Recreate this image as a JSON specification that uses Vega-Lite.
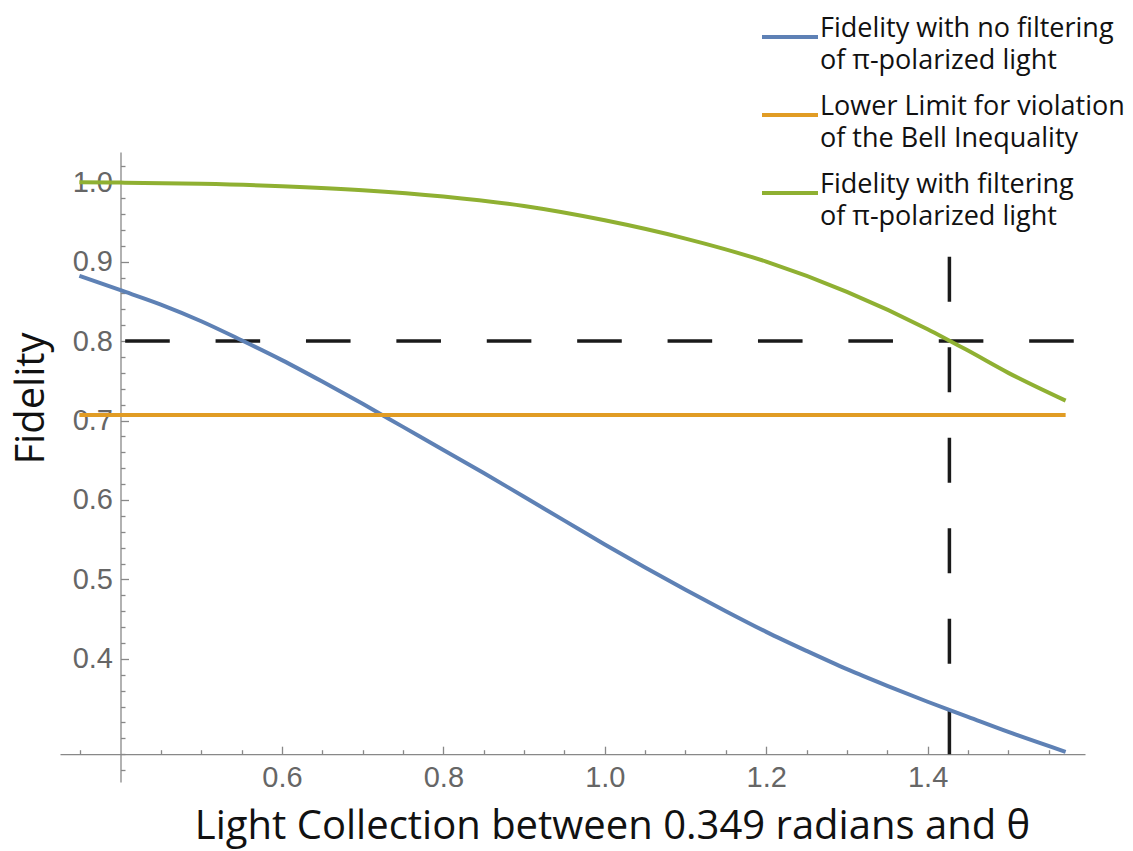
{
  "$schema": "https://vega.github.io/schema/vega-lite/v6.json",
  "width": 1025,
  "height": 630,
  "autosize": "none",
  "padding": {"left": 60, "top": 152, "right": 48, "bottom": 69},
  "background": "white",
  "config": {"view": {"stroke": null}, "font": "Open Sans"},
  "datasets": {
    "curves": [
      {"s": "Fidelity with no filtering| of π-polarized light", "x": 0.349, "y": 0.882},
      {"s": "Fidelity with no filtering| of π-polarized light", "x": 0.4, "y": 0.864},
      {"s": "Fidelity with no filtering| of π-polarized light", "x": 0.45, "y": 0.846},
      {"s": "Fidelity with no filtering| of π-polarized light", "x": 0.5, "y": 0.825},
      {"s": "Fidelity with no filtering| of π-polarized light", "x": 0.55, "y": 0.801},
      {"s": "Fidelity with no filtering| of π-polarized light", "x": 0.6, "y": 0.776},
      {"s": "Fidelity with no filtering| of π-polarized light", "x": 0.65, "y": 0.749},
      {"s": "Fidelity with no filtering| of π-polarized light", "x": 0.7, "y": 0.721},
      {"s": "Fidelity with no filtering| of π-polarized light", "x": 0.75, "y": 0.692},
      {"s": "Fidelity with no filtering| of π-polarized light", "x": 0.8, "y": 0.663},
      {"s": "Fidelity with no filtering| of π-polarized light", "x": 0.85, "y": 0.634},
      {"s": "Fidelity with no filtering| of π-polarized light", "x": 0.9, "y": 0.604},
      {"s": "Fidelity with no filtering| of π-polarized light", "x": 0.95, "y": 0.574},
      {"s": "Fidelity with no filtering| of π-polarized light", "x": 1.0, "y": 0.544},
      {"s": "Fidelity with no filtering| of π-polarized light", "x": 1.05, "y": 0.515},
      {"s": "Fidelity with no filtering| of π-polarized light", "x": 1.1, "y": 0.487},
      {"s": "Fidelity with no filtering| of π-polarized light", "x": 1.15, "y": 0.46},
      {"s": "Fidelity with no filtering| of π-polarized light", "x": 1.2, "y": 0.434},
      {"s": "Fidelity with no filtering| of π-polarized light", "x": 1.25, "y": 0.41},
      {"s": "Fidelity with no filtering| of π-polarized light", "x": 1.3, "y": 0.387},
      {"s": "Fidelity with no filtering| of π-polarized light", "x": 1.35, "y": 0.366},
      {"s": "Fidelity with no filtering| of π-polarized light", "x": 1.4, "y": 0.346},
      {"s": "Fidelity with no filtering| of π-polarized light", "x": 1.45, "y": 0.327},
      {"s": "Fidelity with no filtering| of π-polarized light", "x": 1.5, "y": 0.308},
      {"s": "Fidelity with no filtering| of π-polarized light", "x": 1.571, "y": 0.283},
      {"s": "Lower Limit for violation| of the Bell Inequality", "x": 0.349, "y": 0.7071},
      {"s": "Lower Limit for violation| of the Bell Inequality", "x": 1.571, "y": 0.7071},
      {"s": "Fidelity with filtering| of π-polarized light", "x": 0.349, "y": 1.0},
      {"s": "Fidelity with filtering| of π-polarized light", "x": 0.4, "y": 0.9995},
      {"s": "Fidelity with filtering| of π-polarized light", "x": 0.5, "y": 0.998},
      {"s": "Fidelity with filtering| of π-polarized light", "x": 0.6, "y": 0.995},
      {"s": "Fidelity with filtering| of π-polarized light", "x": 0.7, "y": 0.99},
      {"s": "Fidelity with filtering| of π-polarized light", "x": 0.8, "y": 0.982},
      {"s": "Fidelity with filtering| of π-polarized light", "x": 0.9, "y": 0.97},
      {"s": "Fidelity with filtering| of π-polarized light", "x": 1.0, "y": 0.952},
      {"s": "Fidelity with filtering| of π-polarized light", "x": 1.1, "y": 0.929},
      {"s": "Fidelity with filtering| of π-polarized light", "x": 1.2, "y": 0.9},
      {"s": "Fidelity with filtering| of π-polarized light", "x": 1.3, "y": 0.862},
      {"s": "Fidelity with filtering| of π-polarized light", "x": 1.4, "y": 0.815},
      {"s": "Fidelity with filtering| of π-polarized light", "x": 1.45, "y": 0.788},
      {"s": "Fidelity with filtering| of π-polarized light", "x": 1.5, "y": 0.76},
      {"s": "Fidelity with filtering| of π-polarized light", "x": 1.571, "y": 0.725}
    ],
    "hline": [{"x": 0.349, "x2": 1.585, "y": 0.8}],
    "vline": [{"x": 1.427, "y": 0.28, "y2": 0.907}]
  },
  "resolve": {"axis": {"x": "independent", "y": "independent"}},
  "layer": [
    {
      "data": {"name": "hline"},
      "mark": {"type": "rule", "color": "#1a1a1a", "strokeWidth": 3.5, "strokeDash": [44.6, 45.8], "strokeDashOffset": 44.6},
      "encoding": {
        "x": {"field": "x", "type": "quantitative", "scale": {"domain": [0.325, 1.595], "nice": false, "zero": false}, "axis": null},
        "x2": {"field": "x2"},
        "y": {"field": "y", "type": "quantitative", "scale": {"domain": [0.245, 1.038], "nice": false, "zero": false}, "axis": null}
      }
    },
    {
      "data": {"name": "vline"},
      "mark": {"type": "rule", "color": "#1a1a1a", "strokeWidth": 3.5, "strokeDash": [45, 45.5]},
      "encoding": {
        "x": {
          "field": "x", "type": "quantitative",
          "scale": {"domain": [0.325, 1.595], "nice": false, "zero": false},
          "axis": {
            "orient": "bottom", "title": null, "offset": -27.8, "grid": false, "domain": false, "labels": false,
            "values": [0.35, 0.45, 0.5, 0.55, 0.65, 0.7, 0.75, 0.85, 0.9, 0.95, 1.05, 1.1, 1.15, 1.25, 1.3, 1.35, 1.45, 1.5, 1.55],
            "tickSize": -4.5, "tickColor": "#888", "tickWidth": 1.3
          }
        },
        "y": {
          "field": "y", "type": "quantitative",
          "scale": {"domain": [0.245, 1.038], "nice": false, "zero": false},
          "axis": {
            "orient": "left", "title": null, "offset": -60.5, "grid": false, "domain": false, "labels": false,
            "values": [0.26, 0.28, 0.3, 0.32, 0.34, 0.36, 0.38, 0.42, 0.44, 0.46, 0.48, 0.52, 0.54, 0.56, 0.58, 0.62, 0.64, 0.66, 0.68, 0.72, 0.74, 0.76, 0.78, 0.82, 0.84, 0.86, 0.88, 0.92, 0.94, 0.96, 0.98, 1.02],
            "tickSize": -4.5, "tickColor": "#888", "tickWidth": 1.3
          }
        },
        "y2": {"field": "y2"}
      }
    },
    {
      "data": {"name": "curves"},
      "mark": {"type": "line", "strokeWidth": 4, "interpolate": "monotone"},
      "encoding": {
        "x": {
          "field": "x", "type": "quantitative",
          "scale": {"domain": [0.325, 1.595], "nice": false, "zero": false},
          "axis": {
            "orient": "bottom",
            "title": "Light Collection between 0.349 radians and θ",
            "titleFont": "Open Sans", "titleFontSize": 40, "titleFontWeight": "normal", "titleColor": "#111",
            "titleX": 552, "titleY": 84, "titleBaseline": "alphabetic", "titleAlign": "center",
            "offset": -27.8,
            "grid": false,
            "values": [0.6, 0.8, 1.0, 1.2, 1.4],
            "format": ".1f",
            "tickSize": -8,
            "labelPadding": 17,
            "labelFont": "Liberation Sans", "labelFontSize": 29, "labelColor": "#666",
            "labelOverlap": false, "labelFlush": false, "labelBound": false,
            "domainColor": "#888", "domainWidth": 1.3, "tickColor": "#888", "tickWidth": 1.3
          }
        },
        "y": {
          "field": "y", "type": "quantitative",
          "scale": {"domain": [0.245, 1.038], "nice": false, "zero": false},
          "axis": {
            "orient": "left",
            "title": "Fidelity",
            "titleFont": "Open Sans", "titleFontSize": 40, "titleFontWeight": "normal", "titleColor": "#111",
            "titleX": -77, "titleY": 246, "titleAngle": 270, "titleBaseline": "alphabetic", "titleAlign": "center",
            "offset": -60.5,
            "grid": false,
            "values": [0.4, 0.5, 0.6, 0.7, 0.8, 0.9, 1.0],
            "format": ".1f",
            "tickSize": -8,
            "labelPadding": 16,
            "labelFont": "Liberation Sans", "labelFontSize": 29, "labelColor": "#666",
            "labelOverlap": false, "labelFlush": false, "labelBound": false,
            "domainColor": "#888", "domainWidth": 1.3, "tickColor": "#888", "tickWidth": 1.3
          }
        },
        "color": {
          "field": "s", "type": "nominal",
          "scale": {
            "domain": ["Fidelity with no filtering| of π-polarized light", "Lower Limit for violation| of the Bell Inequality", "Fidelity with filtering| of π-polarized light"],
            "range": ["#5E81B5", "#E19C24", "#8FB032"]
          },
          "legend": {
            "title": null,
            "orient": "none",
            "legendX": 700,
            "legendY": -145,
            "padding": 0,
            "direction": "vertical",
            "symbolType": "stroke",
            "symbolSize": 3136,
            "symbolStrokeWidth": 4,
            "labelExpr": "split(datum.label, '|')",
            "labelFont": "Open Sans",
            "labelFontSize": 27,
            "labelColor": "#111",
            "labelLimit": 0,
            "labelOffset": 0,
            "labelBaseline": "alphabetic",
            "rowPadding": 11,
            "encoding": {"labels": {"lineHeight": {"value": 32}}}
          }
        }
      }
    }
  ]
}
